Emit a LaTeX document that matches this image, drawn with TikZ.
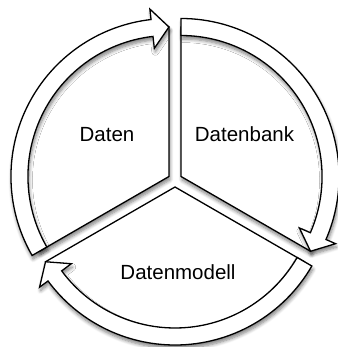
\documentclass[tikz,border=0pt]{standalone}
\usepackage{fontspec}
\setmainfont{Liberation Sans}
\usetikzlibrary{shadows.blur}
\tikzset{
  piecestyle/.style={draw=black, line width=1.3pt, fill=white, line join=miter},
  shadowed/.style={blur shadow={shadow xshift=1pt, shadow yshift=-3.5pt, shadow blur steps=6, shadow blur radius=3.5pt, shadow opacity=50}},
  lbl/.style={inner sep=0pt, anchor=base, font=\fontsize{20.5}{24}\selectfont}
}
\newcommand{\drawpiece}[3]{%
  \pgfmathsetmacro{\ps}{#3+60}%
  \pgfmathsetmacro{\pe}{#3-60}%
  \pgfmathsetmacro{\ph}{#3-53.5}%
  \begin{scope}[shift={(#1,#2)}]
    \draw[piecestyle, shadowed] (0,0) -- (\ps:149.5) arc[start angle=\ps, end angle=\pe, radius=149.5] -- cycle;
    \draw[piecestyle, shadowed] (\ps:141) -- (\ps:158) arc[start angle=\ps, end angle=\ph, radius=158]
      -- (\ph:168.5) -- (\pe:149.5) -- (\ph:129) -- (\ph:141)
      arc[start angle=\ph, end angle=\ps, radius=141] -- cycle;
  \end{scope}
}
\begin{document}
\begin{tikzpicture}[x=1pt, y=1pt]
  \useasboundingbox (0,0) rectangle (337,-347);
  % Daten (left), Datenbank (right), Datenmodell (bottom)
  \drawpiece{168.94}{-176.5}{150}
  \drawpiece{181.06}{-176.5}{30}
  \drawpiece{175}{-187}{270}
  \node[lbl] (daten) at (107,-141.5) {Daten};
  \node[lbl] (datenbank) at (244.5,-141.5) {Datenbank};
  \node[lbl] (datenmodell) at (178,-279) {Datenmodell};
\end{tikzpicture}
\end{document}
